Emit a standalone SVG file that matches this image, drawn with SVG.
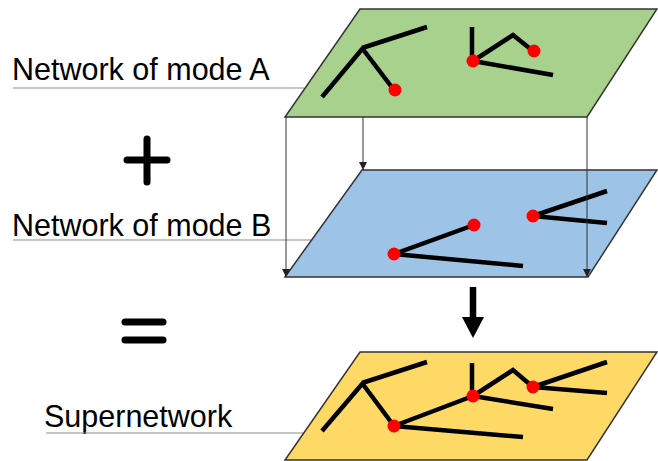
<svg xmlns="http://www.w3.org/2000/svg" width="658" height="461" viewBox="0 0 658 461">
<style>
.plane{stroke:#333;stroke-width:1.5;stroke-linejoin:miter}
.net{stroke:#000;stroke-width:4.5;fill:none;stroke-linecap:butt;stroke-linejoin:miter}
.dot{fill:#FF0000}
.lbl{font-family:"Liberation Sans",Arial,sans-serif;font-size:30.5px;fill:#000}
.ul{stroke:#8c8c8c;stroke-width:1.2}
.thin{stroke:#333;stroke-width:1;fill:none}
.sym{stroke:#000;stroke-width:7;stroke-linecap:round}
</style>
<defs>
<marker id="tri" viewBox="0 0 8 8" refX="8" refY="4" markerWidth="8" markerHeight="8" markerUnits="userSpaceOnUse" orient="auto">
<path d="M0,0 L8,4 L0,8 Z" fill="#222"/>
</marker>
</defs>
<rect width="658" height="461" fill="#fff"/>
<g id="labels">
<text class="lbl" x="12" y="80">Network of mode A</text>
<line class="ul" x1="13" y1="88" x2="304" y2="88"/>
<text class="lbl" x="12" y="236">Network of mode B</text>
<line class="ul" x1="13" y1="240" x2="311" y2="240"/>
<text class="lbl" x="44" y="427">Supernetwork</text>
<line class="ul" x1="46" y1="433" x2="304" y2="433"/>
</g>
<g id="plus"><line class="sym" x1="127" y1="160" x2="167" y2="160"/><line class="sym" x1="147" y1="139" x2="147" y2="182"/></g>
<g id="equals"><line class="sym" x1="125" y1="322" x2="163" y2="322"/><line class="sym" x1="125" y1="340" x2="163" y2="340"/></g>
<g id="networkA">
<polygon class="plane" fill="#A9D18E" points="360,9 657,9 587,117 285,117"/>
<polyline class="net" points="322,97 363,48"/>
<polyline class="net" points="362,48 427,27"/>
<polyline class="net" points="362,48 394,90"/>
<polyline class="net" points="472,27 472,61"/>
<polyline class="net" points="473,61 513,35 533,51"/>
<polyline class="net" points="473,61 553,75"/>
<circle class="dot" cx="395" cy="90" r="6.5"/>
<circle class="dot" cx="473" cy="61" r="6.5"/>
<circle class="dot" cx="534" cy="51" r="6.5"/>
</g>
<g id="networkB">
<polygon class="plane" fill="#9DC3E6" points="362,170 657,170 588,277 285,277"/>
<polyline class="net" points="394,254 474,225"/>
<polyline class="net" points="394,254 523,266"/>
<polyline class="net" points="533,216 607,191"/>
<polyline class="net" points="533,216 607,223"/>
<circle class="dot" cx="394" cy="254" r="6.5"/>
<circle class="dot" cx="474" cy="225" r="6.5"/>
<circle class="dot" cx="533" cy="216" r="6.5"/>
</g>
<g id="supernetwork">
<polygon class="plane" fill="#FFD966" points="360,352 657,352 587,460 285,460"/>
<polyline class="net" points="322,431 363,383"/>
<polyline class="net" points="362,383 427,362"/>
<polyline class="net" points="362,383 394,426"/>
<polyline class="net" points="394,426 523,437"/>
<polyline class="net" points="394,426 473,396"/>
<polyline class="net" points="472,363 472,396"/>
<polyline class="net" points="473,396 513,370 533,387"/>
<polyline class="net" points="473,396 553,409"/>
<polyline class="net" points="533,387 607,362"/>
<polyline class="net" points="533,387 607,393"/>
<circle class="dot" cx="394" cy="426" r="6.5"/>
<circle class="dot" cx="473" cy="396" r="6.5"/>
<circle class="dot" cx="533" cy="387" r="6.5"/>
</g>
<g id="connectors">
<line class="thin" x1="286" y1="117" x2="286" y2="277" marker-end="url(#tri)"/>
<line class="thin" x1="363" y1="117" x2="363" y2="170" marker-end="url(#tri)"/>
<line class="thin" x1="587" y1="117" x2="587" y2="277" marker-end="url(#tri)"/>
<line x1="473" y1="287" x2="473" y2="319" stroke="#000" stroke-width="6.5"/>
<polygon points="462,317 484,317 473,338" fill="#000"/>
</g>
</svg>
